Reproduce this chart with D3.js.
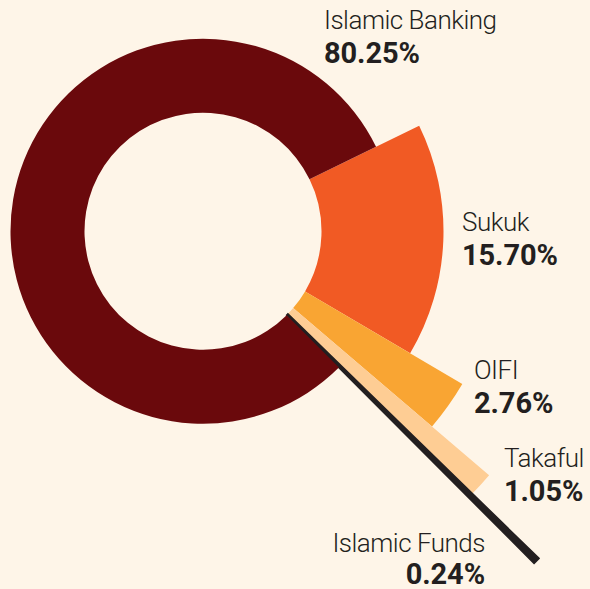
<!DOCTYPE html>
<html>
<head>
<meta charset="utf-8">
<script src="https://cdn.jsdelivr.net/npm/d3@7"></script>
<style>
  html, body { margin: 0; padding: 0; background: #fef5e8; }
  svg { display: block; }
</style>
</head>
<body>
<svg id="chart" width="590" height="589"></svg>
<script>
// ---- Data ----
const categories = ["Sukuk", "OIFI", "Takaful", "Islamic Funds", "Islamic Banking"];
const shares = [15.70, 2.76, 1.05, 0.24, 80.25];
const shareLabels = ["15.70%", "2.76%", "1.05%", "0.24%", "80.25%"];

// ---- Layout / style ----
const W = 590, H = 589;
const cx = 203, cy = 231.2;
const innerR = 118.5;
const outerR = {"Sukuk": 240.5, "OIFI": 301, "Takaful": 376, "Islamic Funds": 469, "Islamic Banking": 192.5};
const colors = {"Sukuk": "#f15a24", "OIFI": "#f9a533", "Takaful": "#fecd94", "Islamic Funds": "#231f20", "Islamic Banking": "#6a090c"};
const labelPos = {
  "Islamic Banking": {x: 324, y: 28.5, anchor: "start", gap: 34},
  "Sukuk": {x: 462, y: 230.5, anchor: "start", gap: 34},
  "OIFI": {x: 474, y: 379.3, anchor: "start", gap: 34},
  "Takaful": {x: 504, y: 467.3, anchor: "start", gap: 34},
  "Islamic Funds": {x: 485, y: 551.5, anchor: "end", gap: 32}
};

const data = categories.map((c, i) => ({name: c, value: shares[i], label: shareLabels[i]}));

const svg = d3.select("#chart");
svg.append("rect").attr("width", W).attr("height", H).attr("fill", "#fef5e8");

const startDeg = 64;
const pie = d3.pie().sort(null).value(d => d.value)
  .startAngle(startDeg * Math.PI / 180)
  .endAngle((startDeg + 360) * Math.PI / 180);

const arc = d3.arc()
  .innerRadius(innerR)
  .outerRadius(d => outerR[d.data.name]);

const g = svg.append("g").attr("transform", `translate(${cx},${cy})`);
g.selectAll("path")
  .data(pie(data))
  .join("path")
  .attr("d", arc)
  .attr("fill", d => colors[d.data.name])
  .attr("stroke", d => d.data.name === "Islamic Funds" ? colors[d.data.name] : "none")
  .attr("stroke-width", d => d.data.name === "Islamic Funds" ? 1.5 : 0);

// ---- Labels ----
const lab = svg.append("g").attr("fill", "#231f20");
data.forEach(d => {
  const p = labelPos[d.name];
  lab.append("text")
    .attr("x", p.x).attr("y", p.y)
    .attr("text-anchor", p.anchor)
    .attr("font-family", "Roboto, 'Open Sans', sans-serif")
    .attr("font-weight", 300)
    .attr("font-size", 26)
    .attr("letter-spacing", -0.5)
    .text(d.name);
  lab.append("text")
    .attr("x", p.x).attr("y", p.y + p.gap)
    .attr("text-anchor", p.anchor)
    .attr("font-family", "Roboto, 'Open Sans', sans-serif")
    .attr("font-weight", 700)
    .attr("font-size", 29)
    .attr("letter-spacing", -0.1)
    .text(d.label);
});
</script>
</body>
</html>
